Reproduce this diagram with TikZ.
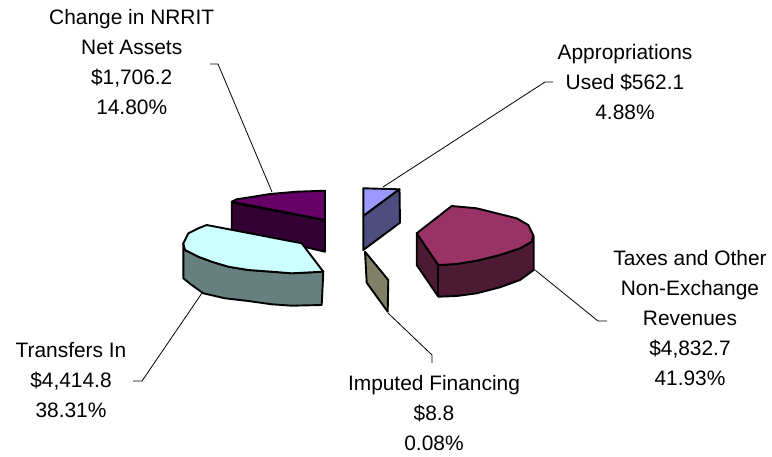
\documentclass[tikz,border=0pt]{standalone}
\usepackage{fontspec}
\setmainfont{Liberation Sans}
\begin{document}
\begin{tikzpicture}[x=1pt,y=-1pt,
  slice/.style={draw=black,line width=1.9pt,line join=round},
  leader/.style={draw=black,line width=0.8pt},
  lbl/.style={align=center,anchor=north,inner sep=0pt,font=\fontsize{20.9}{30}\selectfont}]
\useasboundingbox (0,0) rectangle (772,457);
\filldraw[slice,fill={rgb,255:red,51;green,0;blue,51}] (231.7,202.7) -- (325,220) -- (325,251.7) -- (231.7,230) -- cycle;
\filldraw[slice,fill={rgb,255:red,102;green,0;blue,102}] (231.7,201.7) -- (236.7,199.3) -- (253.3,196.7) -- (270,194) -- (296.7,191.7) -- (325,190.7) -- (325,220) -- cycle;
\filldraw[slice,fill={rgb,255:red,102;green,128;blue,128}] (183.3,243.3) -- (183.3,278.3) -- (191.7,285) -- (203.3,293.3) -- (225,298.3) -- (248.3,301) -- (271.7,304.3) -- (291.7,305.7) -- (321.7,305) -- (323.3,271.7) -- (291.7,273.3) -- (271.7,271.7) -- (248.3,270) -- (228.3,266.7) -- (211.7,261.7) -- (198.3,256.7) -- (185,250) -- cycle;
\filldraw[slice,fill={rgb,255:red,204;green,255;blue,255}] (183.3,243.3) -- (188.3,233.3) -- (198.3,228.3) -- (206.7,225) -- (301.7,243.3) -- (323.3,271.7) -- (291.7,273.3) -- (271.7,271.7) -- (248.3,270) -- (228.3,266.7) -- (211.7,261.7) -- (198.3,256.7) -- (185,250) -- cycle;
\filldraw[slice,fill={rgb,255:red,153;green,153;blue,255}] (363.3,188.3) -- (399.5,189.3) -- (363.3,216) -- cycle;
\filldraw[slice,fill={rgb,255:red,77;green,77;blue,128}] (363.3,216) -- (399.5,189.3) -- (400,222.7) -- (363.3,250) -- cycle;
\filldraw[slice,fill={rgb,255:red,128;green,128;blue,102}] (365,251.7) -- (388.3,280) -- (387.7,311.7) -- (366.7,282.7) -- cycle;
\filldraw[slice,fill={rgb,255:red,77;green,26;blue,51}] (416.7,233.3) -- (416.7,265) -- (438.3,296.7) -- (456.7,296) -- (476.7,293.3) -- (500,287.3) -- (520,280) -- (533.7,270) -- (533.7,236) -- (531.7,241.7) -- (520,248.3) -- (500,255) -- (476.7,260.7) -- (456.7,264) -- (438.3,265) -- cycle;
\draw[slice] (438.3,265) -- (438.3,296.7);
\filldraw[slice,fill={rgb,255:red,153;green,51;blue,102}] (416.7,233.3) -- (451.7,206) -- (476.7,208.3) -- (496.7,213.3) -- (516.7,218.3) -- (528.3,225) -- (533.3,235) -- (531.7,241.7) -- (520,248.3) -- (500,255) -- (476.7,260.7) -- (456.7,264) -- (438.3,265) -- cycle;
\node[lbl] (chg) at (131.7,9.3) {Change in NRRIT\\Net Assets\\\$1,706.2\\14.80\%};
\node[lbl] (app) at (625,44.5) {Appropriations\\Used \$562.1\\4.88\%};
\node[lbl] (tax) at (690,250.5) {Taxes and Other\\Non-Exchange\\Revenues\\\$4,832.7\\41.93\%};
\node[lbl] (trn) at (71,342.5) {Transfers In\\\$4,414.8\\38.31\%};
\node[lbl] (imp) at (434,375.5) {Imputed Financing\\\$8.8\\0.08\%};
\coordinate (chg-end) at (210,64);
\coordinate (chg-bend) at (218,64);
\coordinate (chg-tip) at (272,192);
\coordinate (app-end) at (553,82);
\coordinate (app-bend) at (545,82);
\coordinate (app-tip) at (383,187);
\coordinate (tax-end) at (607,321);
\coordinate (tax-bend) at (598,321);
\coordinate (tax-tip) at (535,270);
\coordinate (trn-end) at (133,381);
\coordinate (trn-bend) at (142,381);
\coordinate (trn-tip) at (202,293);
\coordinate (imp-end) at (432,363);
\coordinate (imp-bend) at (432,355);
\coordinate (imp-tip) at (388,313);
\foreach \s in {chg,app,tax,trn,imp}
\draw[leader] (\s-end) -- (\s-bend) -- (\s-tip);
\end{tikzpicture}
\end{document}
